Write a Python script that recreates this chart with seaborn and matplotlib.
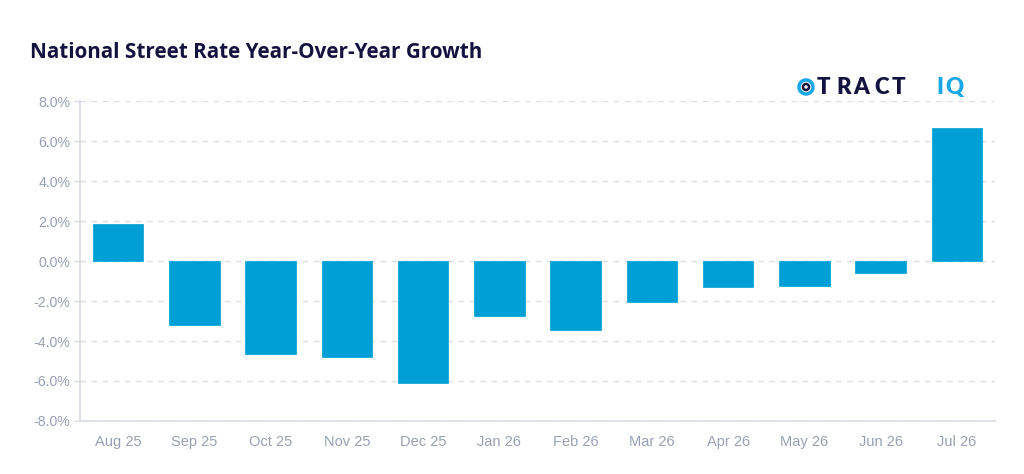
import matplotlib
matplotlib.use("Agg")
import matplotlib.pyplot as plt
import seaborn as sns
import pandas as pd
from matplotlib.patches import Ellipse

months = ["Aug 25", "Sep 25", "Oct 25", "Nov 25", "Dec 25", "Jan 26",
          "Feb 26", "Mar 26", "Apr 26", "May 26", "Jun 26", "Jul 26"]
growth = [1.85, -3.2, -4.65, -4.8, -6.1, -2.75, -3.47, -2.03, -1.3, -1.25, -0.6, 6.67]
y_ticks = [-8, -6, -4, -2, 0, 2, 4, 6, 8]
y_tick_labels = [f"{v:.1f}%" for v in y_ticks]

df = pd.DataFrame({"month": months, "growth": growth})

sns.set_theme(style="white")
plt.rcParams["font.family"] = ["Liberation Sans", "DejaVu Sans"]

fig = plt.figure(figsize=(10.24, 4.74), dpi=100)
ax = fig.add_axes([80 / 1024, 1 - 421 / 474, (995 - 80) / 1024, 320 / 474])

bar_color = "#009fd6"
sns.barplot(data=df, x="month", y="growth", color=bar_color, saturation=1,
            width=0.66, ax=ax, edgecolor=bar_color, linewidth=0.5)

ax.set_xlim(-0.5, len(months) - 0.5)
ax.set_ylim(-8, 8)
ax.set_yticks(y_ticks)
ax.set_yticklabels(y_tick_labels)
ax.set_xlabel("")
ax.set_ylabel("")

grid_color = "#dcdfe8"
ax.yaxis.grid(True, linestyle=(0, (4, 4)), color=grid_color, linewidth=1)
ax.xaxis.grid(False)
ax.set_axisbelow(True)

for side in ["top", "right"]:
    ax.spines[side].set_visible(False)
for side in ["left", "bottom"]:
    ax.spines[side].set_color("#d9dce6")
    ax.spines[side].set_linewidth(1.2)

tick_color = "#97a0b3"
ax.tick_params(axis="y", colors="#d9dce6", labelcolor=tick_color, labelsize=10.2,
               length=4, width=1, pad=3, left=True)
ax.tick_params(axis="x", labelcolor=tick_color, labelsize=10.5, length=0, pad=10)

fig.text(30 / 1024, 1 - 58 / 474, "National Street Rate Year-Over-Year Growth",
         fontsize=14.9, fontweight="bold", color="#14123f",
         family=["Open Sans", "DejaVu Sans"], ha="left", va="baseline")

# Logo
navy = "#14123f"
cyan = "#1aa7e8"
logo_y = 1 - 94 / 474
letters = [("T", 817, navy), ("R", 836, navy), ("A", 853, navy), ("C", 874, navy),
           ("T", 892, navy), ("I", 936, cyan), ("Q", 945, cyan)]
for ch, x, c in letters:
    fig.text(x / 1024, logo_y, ch, fontsize=16, fontweight="heavy", color=c,
             family=["Lato", "DejaVu Sans"], ha="left", va="baseline")
cx, cy = 806, 87
fig.add_artist(Ellipse((cx / 1024, 1 - cy / 474), 14 / 1024, 14 / 474,
                       transform=fig.transFigure, facecolor="none",
                       edgecolor=cyan, linewidth=2.5))
fig.add_artist(Ellipse((cx / 1024, 1 - cy / 474), 6 / 1024, 6 / 474,
                       transform=fig.transFigure, facecolor="none",
                       edgecolor=navy, linewidth=1.8))

fig.savefig("out.png", dpi=100, facecolor="white")
